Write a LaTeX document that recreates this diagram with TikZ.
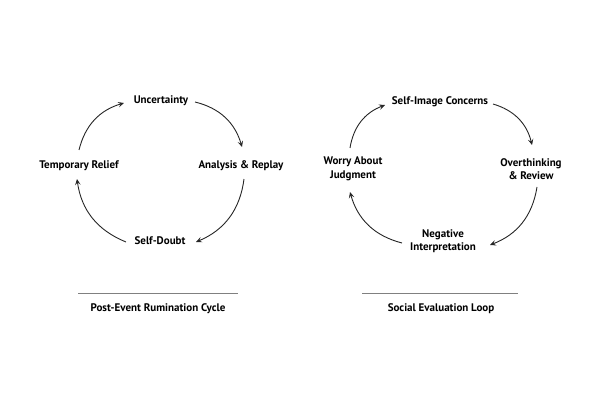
\documentclass[tikz,border=0pt]{standalone}
\usepackage{fontspec}
\setmainfont{PT Sans}
\usepackage{tikz}
\usetikzlibrary{arrows,arrows.meta,calc,positioning}

\begin{document}
\begin{tikzpicture}[x=1pt,y=-1pt,
  lbl/.style={font=\fontsize{11}{13.5}\selectfont\bfseries,align=center,inner sep=1pt},
  ttl/.style={font=\fontsize{11}{13}\selectfont\bfseries,inner sep=1pt},
  cyc/.style={-{Stealth[length=6pt,width=5.5pt,inset=2.5pt]},line width=0.9pt,black!85}]
\useasboundingbox (0,0) rectangle (602,401);
% left cycle
\node[lbl] (unc) at (161,101) {Uncertainty};
\node[lbl] (ana) at (241,166) {Analysis \& Replay};
\node[lbl] (sdb) at (160,241) {Self-Doubt};
\node[lbl] (rel) at (79,166) {Temporary Relief};
\coordinate (a1) at (195,102); \coordinate (a2) at (242,147);
\coordinate (b1) at (244,179); \coordinate (b2) at (196,242);
\coordinate (c1) at (126,242); \coordinate (c2) at (77,179);
\coordinate (d1) at (79,150);  \coordinate (d2) at (124,103);
\draw[cyc] (a1) to[bend left=30] (a2);
\draw[cyc] (b1) to[bend left=30] (b2);
\draw[cyc] (c1) to[bend left=30] (c2);
\draw[cyc] (d1) to[bend left=30] (d2);
% right cycle
\node[lbl] (img) at (440,102) {Self-Image Concerns};
\node[lbl] (ovr) at (531,169) {Overthinking\\\& Review};
\node[lbl] (neg) at (443,241) {Negative\\Interpretation};
\node[lbl] (wor) at (353,169) {Worry About\\Judgment};
\coordinate (e1) at (493,104); \coordinate (e2) at (532,145);
\coordinate (f1) at (537,187); \coordinate (f2) at (490,245);
\coordinate (g1) at (402,243); \coordinate (g2) at (350,192);
\coordinate (h1) at (350,148); \coordinate (h2) at (385,105);
\draw[cyc] (e1) to[bend left=30] (e2);
\draw[cyc] (f1) to[bend left=30] (f2);
\draw[cyc] (g1) to[bend left=30] (g2);
\draw[cyc] (h1) to[bend left=30] (h2);
% captions
\draw[gray,line width=0.6pt] (78,293) -- (238,293);
\draw[gray,line width=0.6pt] (362,293) -- (518,293);
\node[ttl] (t1) at (158,309) {Post-Event Rumination Cycle};
\node[ttl] (t2) at (441,309) {Social Evaluation Loop};
\end{tikzpicture}
\end{document}
